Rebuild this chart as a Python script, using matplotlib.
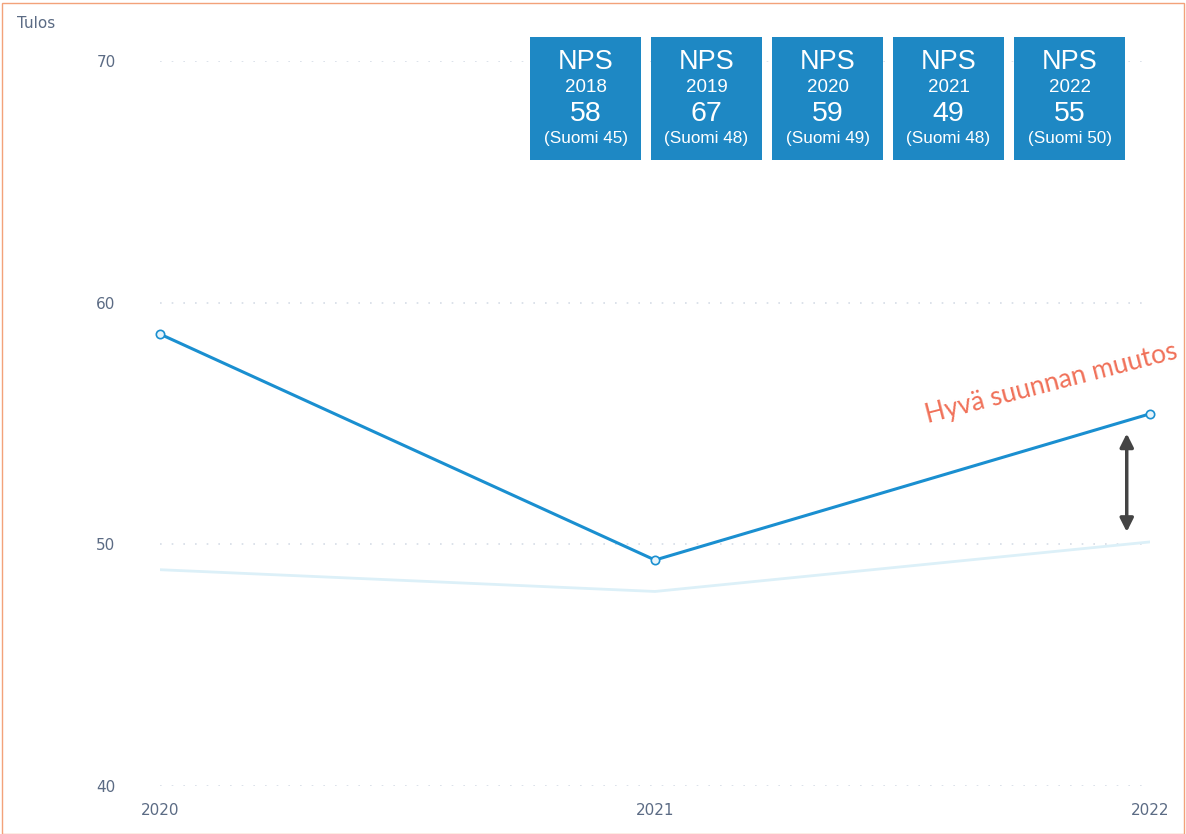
import matplotlib
matplotlib.use("Agg")
import matplotlib.pyplot as plt
from matplotlib.patches import Rectangle

# Data
vuodet = [2020, 2021, 2022]
tulos = [58.7, 49.35, 55.4]
suomi_viiva = [48.95, 48.05, 50.1]

nps_vuodet = ["2018", "2019", "2020", "2021", "2022"]
nps_arvot = ["58", "67", "59", "49", "55"]
nps_suomi = ["45", "48", "49", "48", "50"]

y_ticks = [40, 50, 60, 70]

sininen = "#1a8fd0"
laatikko = "#1e88c4"
harmaa_teksti = "#5b6b84"

fig = plt.figure(figsize=(11.86, 8.34), dpi=100)
ax = fig.add_axes([160 / 1186, 48 / 834, 990 / 1186, 725 / 834])

ax.plot(vuodet, suomi_viiva, color="#dcf0f8", lw=2.0, zorder=2)
ax.plot(vuodet, tulos, color=sininen, lw=2.2, zorder=3,
        marker="o", markersize=6, markerfacecolor="#e6f4fb",
        markeredgecolor=sininen, markeredgewidth=1.2, clip_on=False)

ax.set_xlim(2020, 2022)
ax.set_ylim(40, 70)
ax.set_yticks(y_ticks)
ax.set_xticks(vuodet)
ax.set_xticklabels([str(v) for v in vuodet])
ax.tick_params(axis="y", length=0, pad=32, labelsize=11, labelcolor=harmaa_teksti)
ax.tick_params(axis="x", length=0, pad=12, labelsize=11, labelcolor=harmaa_teksti)

ax.grid(axis="y", color="#d6dde6", linestyle=(0, (1, 6)), lw=1.2)
for s in ax.spines.values():
    s.set_visible(False)

fig.text(17 / 1186, 1 - 24 / 834, "Tulos", color=harmaa_teksti, fontsize=11,
         va="center", ha="left")

# NPS boxes
x0 = 530
w = 111
gap = 10
for i in range(len(nps_vuodet)):
    left = (x0 + i * (w + gap)) / 1186
    fig.patches.append(Rectangle((left, 1 - 160 / 834), w / 1186, 123 / 834,
                                 transform=fig.transFigure, facecolor=laatikko,
                                 edgecolor="none", zorder=5))
    cx = left + w / 2 / 1186
    fig.text(cx, 1 - 62 / 834, "NPS", color="white", fontsize=19.5,
             ha="center", va="center", family="Liberation Sans", zorder=6)
    fig.text(cx, 1 - 88 / 834, nps_vuodet[i], color="white", fontsize=13.5,
             ha="center", va="center", family="Liberation Sans", zorder=6)
    fig.text(cx, 1 - 114 / 834, nps_arvot[i], color="white", fontsize=20.5,
             ha="center", va="center", family="Liberation Sans", zorder=6)
    fig.text(cx, 1 - 139 / 834, "(Suomi " + nps_suomi[i] + ")", color="white",
             fontsize=12.3, ha="center", va="center", family="Liberation Sans", zorder=6)

# Annotation
ax.text(2021.8, 56.65, "Hyvä suunnan muutos", color="#f07058", fontsize=19,
        rotation=14.5, ha="center", va="center", family="Lato")
ax.annotate("", xy=(2021.953, 54.7), xytext=(2021.953, 50.4),
            arrowprops=dict(arrowstyle="<|-|>", color="#444444", lw=2.5,
                            mutation_scale=20))

# screenshot frame
fig.patches.append(Rectangle((0.002, 0), 0.996, 0.997, transform=fig.transFigure,
                             facecolor="none", edgecolor="#f3a27a", lw=1, zorder=0))

fig.savefig("out.png", dpi=100, facecolor="white")
